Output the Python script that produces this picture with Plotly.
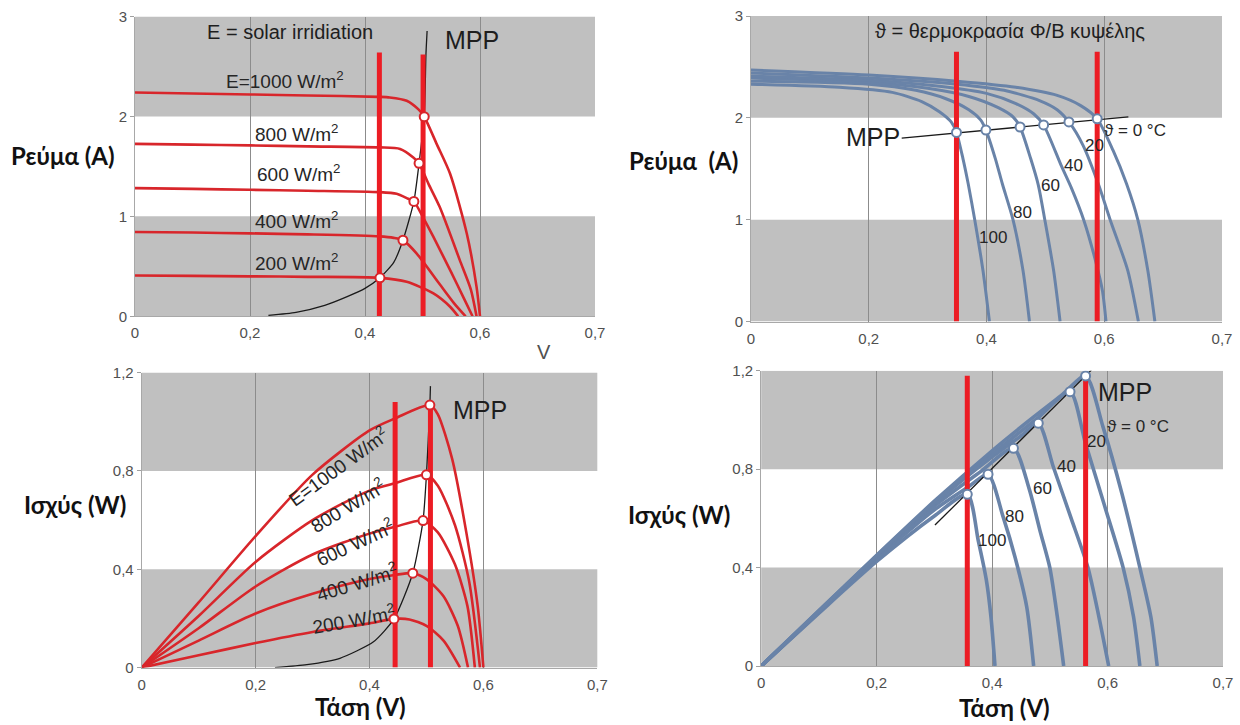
import plotly.graph_objects as go

# ---------------- DATA ----------------
x_tick_vals = [0, 0.2, 0.4, 0.6, 0.8]
x_tick_text = ["0", "0,2", "0,4", "0,6", "0,7"]
i_tick_vals = [0, 1, 2, 3]
i_tick_text = ["0", "1", "2", "3"]
p_tick_vals = [0, 0.4, 0.8, 1.2]
p_tick_text = ["0", "0,4", "0,8", "1,2"]

# Top-left: I-V for irradiance
iv_v_1000 = [0, 0.1, 0.2, 0.3, 0.423, 0.443, 0.4725, 0.493, 0.503, 0.525, 0.548, 0.577, 0.594, 0.600]
iv_i_1000 = [2.24, 2.23, 2.22, 2.21, 2.196, 2.19, 2.157, 2.07, 1.997, 1.72, 1.426, 0.828, 0.295, 0]
iv_v_800 = [0, 0.1, 0.2, 0.3, 0.425, 0.461, 0.484, 0.494, 0.51, 0.53, 0.565, 0.584, 0.594]
iv_i_800 = [1.725, 1.718, 1.71, 1.70, 1.69, 1.675, 1.59, 1.531, 1.33, 1.093, 0.56, 0.27, 0]
iv_v_600 = [0, 0.1, 0.2, 0.3, 0.425, 0.455, 0.475, 0.485, 0.5, 0.519, 0.55, 0.572, 0.587]
iv_i_600 = [1.283, 1.275, 1.266, 1.257, 1.243, 1.226, 1.176, 1.15, 1.0, 0.794, 0.44, 0.18, 0]
iv_v_400 = [0, 0.1, 0.2, 0.3, 0.425, 0.45, 0.466, 0.49, 0.53, 0.555, 0.575]
iv_i_400 = [0.844, 0.838, 0.83, 0.82, 0.80, 0.785, 0.761, 0.628, 0.32, 0.13, 0]
iv_v_200 = [0, 0.1, 0.2, 0.3, 0.426, 0.4725, 0.519, 0.548, 0.562]
iv_i_200 = [0.409, 0.405, 0.40, 0.395, 0.385, 0.345, 0.229, 0.096, 0]
mpp_curve_iv_v = [0.232, 0.28, 0.33, 0.37, 0.40, 0.426, 0.45, 0.466, 0.485, 0.494, 0.503, 0.506, 0.508]
mpp_curve_iv_i = [0.01, 0.04, 0.11, 0.20, 0.28, 0.385, 0.54, 0.761, 1.15, 1.531, 1.997, 2.62, 2.855]
mpp_tl_v = [0.503, 0.494, 0.485, 0.466, 0.426]
mpp_tl_i = [1.997, 1.531, 1.15, 0.761, 0.385]
bars_tl_v = [0.425, 0.501]
bars_tl_top = [2.64, 2.62]

# Bottom-left: P-V for irradiance
pv_v_1000 = [0, 0.1, 0.2, 0.3, 0.4, 0.445, 0.506, 0.52, 0.545, 0.57, 0.59, 0.600]
pv_p_1000 = [0, 0.265, 0.535, 0.785, 0.965, 1.014, 1.068, 1.03, 0.85, 0.55, 0.25, 0]
pv_v_800 = [0, 0.1, 0.2, 0.3, 0.4, 0.445, 0.5, 0.52, 0.55, 0.575, 0.594]
pv_p_800 = [0, 0.21, 0.43, 0.6, 0.72, 0.75, 0.784, 0.74, 0.58, 0.35, 0]
pv_v_600 = [0, 0.1, 0.2, 0.3, 0.4, 0.445, 0.494, 0.52, 0.55, 0.572, 0.585]
pv_p_600 = [0, 0.16, 0.33, 0.46, 0.545, 0.573, 0.598, 0.55, 0.42, 0.25, 0]
pv_v_400 = [0, 0.1, 0.2, 0.3, 0.4, 0.445, 0.476, 0.5, 0.53, 0.555, 0.573]
pv_p_400 = [0, 0.11, 0.22, 0.3, 0.36, 0.377, 0.384, 0.36, 0.29, 0.17, 0]
pv_v_200 = [0, 0.1, 0.2, 0.3, 0.4, 0.443, 0.47, 0.5, 0.53, 0.559]
pv_p_200 = [0, 0.05, 0.1, 0.145, 0.18, 0.198, 0.196, 0.17, 0.11, 0]
mpp_curve_pv_v = [0.234, 0.29, 0.348, 0.407, 0.443, 0.476, 0.494, 0.5, 0.506, 0.507]
mpp_curve_pv_p = [0, 0.012, 0.038, 0.105, 0.198, 0.384, 0.598, 0.784, 1.068, 1.145]
mpp_bl_v = [0.506, 0.5, 0.494, 0.476, 0.443]
mpp_bl_p = [1.068, 0.784, 0.598, 0.384, 0.198]
bars_bl_v = [0.445, 0.507]
bars_bl_top = [1.08, 1.06]

# Top-right: I-V for temperature
ivt_v_0 = [0, 0.2, 0.35, 0.45, 0.52, 0.56, 0.588, 0.615, 0.638, 0.657, 0.674, 0.686]
ivt_i_0 = [2.47, 2.42, 2.36, 2.30, 2.22, 2.12, 1.99, 1.68, 1.35, 1.0, 0.5, 0]
ivt_v_20 = [0, 0.2, 0.35, 0.43, 0.49, 0.52, 0.540, 0.564, 0.59, 0.61, 0.64, 0.658]
ivt_i_20 = [2.44, 2.39, 2.33, 2.27, 2.17, 2.08, 1.96, 1.73, 1.35, 1.0, 0.5, 0]
ivt_v_40 = [0, 0.2, 0.32, 0.40, 0.45, 0.48, 0.497, 0.527, 0.545, 0.565, 0.585, 0.597, 0.603]
ivt_i_40 = [2.41, 2.37, 2.31, 2.24, 2.14, 2.04, 1.93, 1.53, 1.3, 1.0, 0.6, 0.3, 0]
ivt_v_60 = [0, 0.2, 0.30, 0.37, 0.42, 0.445, 0.457, 0.475, 0.488, 0.499, 0.514, 0.525]
ivt_i_60 = [2.39, 2.35, 2.29, 2.21, 2.10, 2.01, 1.91, 1.6, 1.34, 1.0, 0.5, 0]
ivt_v_80 = [0, 0.2, 0.28, 0.33, 0.37, 0.39, 0.399, 0.415, 0.427, 0.445, 0.462, 0.473]
ivt_i_80 = [2.36, 2.33, 2.27, 2.19, 2.08, 1.98, 1.88, 1.6, 1.35, 1.0, 0.5, 0]
ivt_v_100 = [0, 0.15, 0.24, 0.29, 0.32, 0.34, 0.349, 0.36, 0.369, 0.38, 0.394, 0.405]
ivt_i_100 = [2.33, 2.30, 2.25, 2.16, 2.06, 1.96, 1.857, 1.6, 1.35, 1.0, 0.5, 0]
mpp_line_iv_v = [0.256, 0.641]
mpp_line_iv_i = [1.80, 2.01]
mpp_tr_v = [0.349, 0.399, 0.457, 0.497, 0.540, 0.588]
mpp_tr_i = [1.857, 1.88, 1.91, 1.93, 1.96, 1.99]
bars_tr_v = [0.349, 0.588]
bars_tr_top = [2.65, 2.65]

# Bottom-right: P-V for temperature
pvt_v_0 = [0, 0.1, 0.2, 0.3, 0.4, 0.46, 0.52, 0.562, 0.592, 0.625, 0.656, 0.675, 0.686]
pvt_p_0 = [0, 0.225, 0.45, 0.67, 0.875, 0.99, 1.10, 1.179, 0.973, 0.7, 0.4, 0.2, 0]
pvt_v_20 = [0, 0.1, 0.2, 0.3, 0.4, 0.48, 0.535, 0.561, 0.595, 0.627, 0.645, 0.656]
pvt_p_20 = [0, 0.224, 0.448, 0.665, 0.86, 1.01, 1.115, 0.912, 0.65, 0.4, 0.2, 0]
pvt_v_40 = [0, 0.1, 0.2, 0.3, 0.4, 0.45, 0.48, 0.506, 0.537, 0.566, 0.585, 0.602]
pvt_p_40 = [0, 0.222, 0.445, 0.66, 0.85, 0.935, 0.987, 0.81, 0.6, 0.4, 0.2, 0]
pvt_v_60 = [0, 0.1, 0.2, 0.3, 0.38, 0.437, 0.464, 0.483, 0.5, 0.513, 0.524]
pvt_p_60 = [0, 0.22, 0.44, 0.65, 0.79, 0.885, 0.722, 0.55, 0.4, 0.2, 0]
pvt_v_80 = [0, 0.1, 0.2, 0.3, 0.36, 0.393, 0.419, 0.44, 0.46, 0.472]
pvt_p_80 = [0, 0.218, 0.435, 0.635, 0.73, 0.779, 0.607, 0.44, 0.24, 0]
pvt_v_100 = [0, 0.1, 0.2, 0.3, 0.357, 0.376, 0.39, 0.398, 0.405]
pvt_p_100 = [0, 0.215, 0.425, 0.61, 0.698, 0.51, 0.35, 0.2, 0]
mpp_line_pv_v = [0.301, 0.572]
mpp_line_pv_p = [0.573, 1.203]
mpp_br_v = [0.357, 0.393, 0.437, 0.480, 0.535, 0.562]
mpp_br_p = [0.698, 0.779, 0.885, 0.987, 1.115, 1.179]
bars_br_v = [0.357, 0.562]
bars_br_top = [1.18, 1.17]

irr_labels = ["E=1000 W/m<sup>2</sup>", "800 W/m<sup>2</sup>", "600 W/m<sup>2</sup>",
              "400 W/m<sup>2</sup>", "200 W/m<sup>2</sup>"]
temp_labels = ["20", "40", "60", "80", "100"]

# ---------------- STYLE ----------------
RED_CURVE = "#d8262b"
RED_BAR = "#ec1c24"
BLUE = "#6983a8"
GRAY_BAND = "#c0c0c0"
GRID = "#8c8c8c"
TXT = "#262626"
SANS = "Liberation Sans, Arial, sans-serif"
TICK_FONT = dict(family="Liberation Sans Narrow, Liberation Sans, Arial", size=15, color="#505050")
LBL_FONT = dict(family=SANS, size=19, color=TXT)
TITLE_FONT = dict(family="Lato, Noto Sans, sans-serif", size=24, color="#111111")

fig = go.Figure()


def curve(x, y, color, width, ax, smooth=0.7):
    fig.add_trace(go.Scatter(x=x, y=y, mode="lines", xaxis=ax[0], yaxis=ax[1],
                             line=dict(color=color, width=width, shape="spline", smoothing=smooth),
                             hoverinfo="skip"))


def bars(xs, tops, ax):
    for xv, tv in zip(xs, tops):
        fig.add_trace(go.Scatter(x=[xv, xv], y=[0, tv], mode="lines", xaxis=ax[0], yaxis=ax[1],
                                 line=dict(color=RED_BAR, width=5), hoverinfo="skip"))


def markers(x, y, color, ax):
    fig.add_trace(go.Scatter(x=x, y=y, mode="markers", xaxis=ax[0], yaxis=ax[1],
                             marker=dict(size=9, color="white", line=dict(color=color, width=2)),
                             hoverinfo="skip"))


TL = ("x", "y")
TR = ("x2", "y2")
BL = ("x3", "y3")
BR = ("x4", "y4")

# Top-left
curve(mpp_curve_iv_v, mpp_curve_iv_i, "#1a1a1a", 1.3, TL, 0.6)
for xv, yv in [(iv_v_1000, iv_i_1000), (iv_v_800, iv_i_800), (iv_v_600, iv_i_600),
               (iv_v_400, iv_i_400), (iv_v_200, iv_i_200)]:
    curve(xv, yv, RED_CURVE, 2.6, TL)
bars(bars_tl_v, bars_tl_top, TL)
markers(mpp_tl_v, mpp_tl_i, RED_CURVE, TL)

# Bottom-left
curve(mpp_curve_pv_v, mpp_curve_pv_p, "#1a1a1a", 1.3, BL, 0.6)
for xv, yv in [(pv_v_1000, pv_p_1000), (pv_v_800, pv_p_800), (pv_v_600, pv_p_600),
               (pv_v_400, pv_p_400), (pv_v_200, pv_p_200)]:
    curve(xv, yv, RED_CURVE, 2.6, BL, 0.7)
bars(bars_bl_v, bars_bl_top, BL)
markers(mpp_bl_v, mpp_bl_p, RED_CURVE, BL)

# Top-right
for xv, yv in [(ivt_v_100, ivt_i_100), (ivt_v_80, ivt_i_80), (ivt_v_60, ivt_i_60),
               (ivt_v_40, ivt_i_40), (ivt_v_20, ivt_i_20), (ivt_v_0, ivt_i_0)]:
    curve(xv, yv, BLUE, 3, TR)
curve(mpp_line_iv_v, mpp_line_iv_i, "#1a1a1a", 1.3, TR)
bars(bars_tr_v, bars_tr_top, TR)
markers(mpp_tr_v, mpp_tr_i, BLUE, TR)

# Bottom-right
for xv, yv in [(pvt_v_100, pvt_p_100), (pvt_v_80, pvt_p_80), (pvt_v_60, pvt_p_60),
               (pvt_v_40, pvt_p_40), (pvt_v_20, pvt_p_20), (pvt_v_0, pvt_p_0)]:
    curve(xv, yv, BLUE, 3.6, BR)
curve(mpp_line_pv_v, mpp_line_pv_p, "#1a1a1a", 1.3, BR)
bars(bars_br_v, bars_br_top, BR)
markers(mpp_br_v, mpp_br_p, BLUE, BR)

# ---------------- LAYOUT ----------------
W, H = 1240, 725


def px(xr):
    return xr / W


def py(yr):
    return 1 - yr / H


def xdom(a, b):
    return [px(a), px(b)]


def ydom(bottom_px, top_px):
    return [py(bottom_px), py(top_px)]


def xax(dom, anchor):
    return dict(domain=dom, anchor=anchor, range=[0, 0.8], tickvals=x_tick_vals, ticktext=x_tick_text,
                showgrid=True, gridcolor=GRID, gridwidth=1, zeroline=False, showline=True,
                linecolor="#a8a8a8", linewidth=1, ticks="outside", ticklen=3, tickcolor="rgba(0,0,0,0)",
                tickfont=TICK_FONT, fixedrange=True, automargin=False)


def yax(dom, anchor, rng, tv, tt):
    return dict(domain=dom, anchor=anchor, range=rng, tickvals=tv, ticktext=tt, showgrid=False,
                zeroline=False, showline=True, linecolor="#a8a8a8", linewidth=1, ticks="outside",
                ticklen=4, tickcolor="#a0a0a0", tickfont=TICK_FONT, fixedrange=True, automargin=False)


shapes = []
for xr, yr, bands in [("x", "y", [(0, 1), (2, 3)]), ("x2", "y2", [(0, 1), (2, 3)]),
                      ("x3", "y3", [(0, 0.4), (0.8, 1.2)]), ("x4", "y4", [(0, 0.4), (0.8, 1.2)])]:
    for b0, b1 in bands:
        shapes.append(dict(type="rect", xref=xr + " domain", yref=yr, x0=0, x1=1, y0=b0, y1=b1,
                           fillcolor=GRAY_BAND, line=dict(width=0), layer="below"))

ann = []


def label(x, y, text, xr, yr, font=LBL_FONT, angle=0, xanchor="center"):
    ann.append(dict(x=x, y=y, xref=xr, yref=yr, text=text, showarrow=False, font=font,
                    textangle=angle, xanchor=xanchor, yanchor="middle"))


MPP_FONT = dict(family=SANS, size=25, color="#1e1e1e")
NUM_FONT = dict(family=SANS, size=17, color=TXT)
HEAD_FONT = dict(family=SANS, size=20, color="#1e1e1e")
ZERO_FONT = dict(family=SANS, size=17, color=TXT)

# Top-left texts
label(0.27, 2.84, "E = solar irridiation", "x", "y", HEAD_FONT)
label(0.586, 2.76, "MPP", "x", "y", MPP_FONT)
for (xv, yv), t in zip([(0.261, 2.36), (0.281, 1.83), (0.284, 1.43), (0.281, 0.96), (0.281, 0.545)], irr_labels):
    label(xv, yv, t, "x", "y")
label(px(544), py(352), "V", "paper", "paper", dict(family=SANS, size=20, color="#505050"))

# Bottom-left texts
label(0.594, 1.048, "MPP", "x3", "y3", MPP_FONT)
for (xv, yv, a), t in zip([(0.345, 0.82, -36), (0.362, 0.66, -31), (0.374, 0.512, -25),
                           (0.377, 0.35, -17), (0.372, 0.196, -10)], irr_labels):
    label(xv, yv, t, "x3", "y3", LBL_FONT, a)

# Top-right texts
label(0.44, 2.85, "ϑ = θερμοκρασία Φ/Β κυψέλης", "x2", "y2", HEAD_FONT)
label(0.256, 1.81, "MPP", "x2", "y2", MPP_FONT, xanchor="right")
label(0.652, 1.88, "ϑ = 0 °C", "x2", "y2", ZERO_FONT)
for (xv, yv), t in zip([(0.584, 1.73), (0.547, 1.53), (0.508, 1.34), (0.462, 1.07), (0.411, 0.82)], temp_labels):
    label(xv, yv, t, "x2", "y2", NUM_FONT)

# Bottom-right texts
label(0.630, 1.115, "MPP", "x4", "y4", MPP_FONT)
label(0.653, 0.973, "ϑ = 0 °C", "x4", "y4", ZERO_FONT)
for (xv, yv), t in zip([(0.581, 0.912), (0.529, 0.81), (0.487, 0.722), (0.439, 0.607), (0.399, 0.512)], temp_labels):
    label(xv, yv, t, "x4", "y4", NUM_FONT)

# Axis titles
label(px(63), py(155), "<b>Ρεύμα (A)</b>", "paper", "paper", TITLE_FONT)
label(px(683), py(160), "<b>Ρεύμα  (A)</b>", "paper", "paper", TITLE_FONT)
label(px(75), py(505), "<b>Ισχύς (W)</b>", "paper", "paper", TITLE_FONT)
label(px(679), py(514), "<b>Ισχύς (W)</b>", "paper", "paper", TITLE_FONT)
label(px(360), py(706), "<b>Τάση (V)</b>", "paper", "paper", TITLE_FONT)
label(px(1005), py(707), "<b>Τάση (V)</b>", "paper", "paper", TITLE_FONT)

fig.update_layout(
    width=W, height=H, margin=dict(l=0, r=0, t=0, b=0, autoexpand=False),
    paper_bgcolor="white", plot_bgcolor="white", showlegend=False, hovermode=False,
    xaxis=xax(xdom(135, 595), "y"),
    yaxis=yax(ydom(316.3, 16.5), "x", [0, 3], i_tick_vals, i_tick_text),
    xaxis2=xax(xdom(751, 1222), "y2"),
    yaxis2=yax(ydom(321.5, 16), "x2", [0, 3], i_tick_vals, i_tick_text),
    xaxis3=xax(xdom(141.7, 597.3), "y3"),
    yaxis3=yax(ydom(667.6, 372.6), "x3", [0, 1.2], p_tick_vals, p_tick_text),
    xaxis4=xax(xdom(761.2, 1223), "y4"),
    yaxis4=yax(ydom(666, 370.8), "x4", [0, 1.2], p_tick_vals, p_tick_text),
    shapes=shapes, annotations=ann,
)

# remove the default 8px page margin so the figure fills the 1240x725 window exactly
fig.write_html("out.html", config={"displayModeBar": False, "staticPlot": True},
               post_script="document.body.style.margin='0';")
